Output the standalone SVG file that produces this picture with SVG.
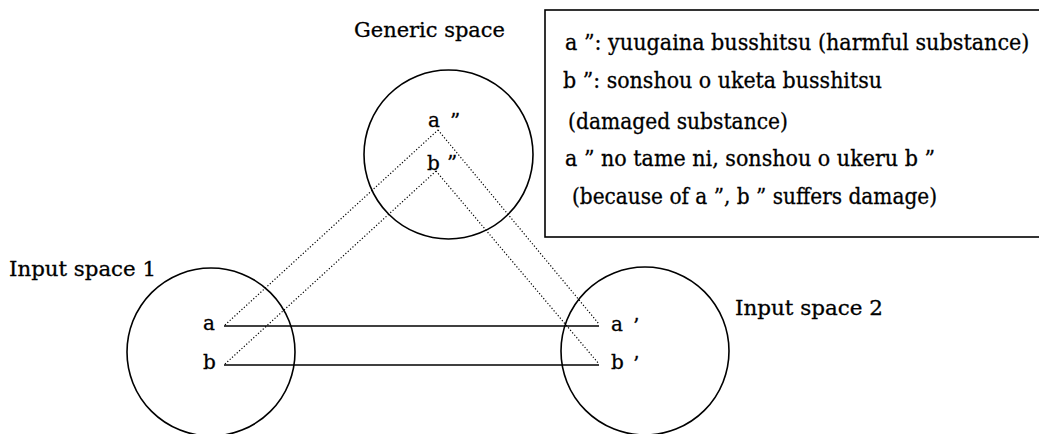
<svg xmlns="http://www.w3.org/2000/svg" width="1039" height="434" viewBox="0 0 1039 434">
  <style>
    .space { fill: none; stroke: #000; stroke-width: 1.6; }
    text { font-family: "DejaVu Serif", "Liberation Serif", serif; fill: #000; stroke: #000; stroke-width: 0.3; }
    .lbl { font-size: 20px; }
    .item { font-size: 20px; }
    .note { font-size: 22px; }
    .link { stroke: #000; stroke-width: 1.4; fill: none; }
    .map { stroke: #000; stroke-width: 1.2; stroke-dasharray: 1.2 2; fill: none; }
  </style>
  <rect width="1039" height="434" fill="#fff"/>

  <!-- Generic space -->
  <g id="generic-space">
    <circle class="space" cx="448.5" cy="154.5" r="84.5"/>
    <text class="lbl" x="354" y="37" textLength="151" lengthAdjust="spacingAndGlyphs">Generic space</text>
    <text class="item" x="428" y="127">a</text>
    <text class="item" x="450" y="128">”</text>
    <text class="item" x="427" y="170">b</text>
    <text class="item" x="447" y="170">”</text>
  </g>

  <!-- Input space 1 -->
  <g id="input-space-1">
    <circle class="space" cx="211" cy="352" r="84"/>
    <text class="lbl" x="9" y="276" textLength="147" lengthAdjust="spacingAndGlyphs">Input space 1</text>
    <text class="item" x="203" y="330">a</text>
    <text class="item" x="203" y="369">b</text>
  </g>

  <!-- Input space 2 -->
  <g id="input-space-2">
    <circle class="space" cx="645" cy="351" r="84"/>
    <text class="lbl" x="735" y="315" textLength="148" lengthAdjust="spacingAndGlyphs">Input space 2</text>
    <text class="item" x="611" y="331">a</text>
    <text class="item" x="633" y="333">’</text>
    <text class="item" x="611" y="369">b</text>
    <text class="item" x="633" y="371">’</text>
  </g>

  <!-- Gloss box, open past the right edge -->
  <g id="gloss">
    <rect x="545" y="10" width="496" height="227" fill="none" stroke="#000" stroke-width="1.6"/>
    <!-- longest line: narrowed with a horizontal scale so it stays inside the frame -->
    <text class="note" transform="translate(565 50) scale(0.86 1)" x="0" y="0" textLength="540" lengthAdjust="spacingAndGlyphs">a ”: yuugaina busshitsu (harmful substance)</text>
    <text class="note" x="563" y="88" textLength="319" lengthAdjust="spacingAndGlyphs">b ”: sonshou o uketa busshitsu</text>
    <text class="note" x="568" y="129" textLength="220" lengthAdjust="spacingAndGlyphs">(damaged substance)</text>
    <text class="note" x="565" y="166" textLength="370" lengthAdjust="spacingAndGlyphs">a ” no tame ni, sonshou o ukeru b ”</text>
    <text class="note" x="572" y="204" textLength="365" lengthAdjust="spacingAndGlyphs">(because of a ”, b ” suffers damage)</text>
  </g>

  <!-- Connectors -->
  <g id="connectors">
    <line class="link" x1="224" y1="326" x2="599" y2="326"/>
    <line class="link" x1="224" y1="365" x2="599" y2="365"/>
    <line class="map" x1="225" y1="325" x2="438" y2="130"/>
    <line class="map" x1="225" y1="364" x2="436" y2="171"/>
    <line class="map" x1="438" y1="130" x2="599" y2="324"/>
    <line class="map" x1="436" y1="171" x2="599" y2="364"/>
  </g>
</svg>
